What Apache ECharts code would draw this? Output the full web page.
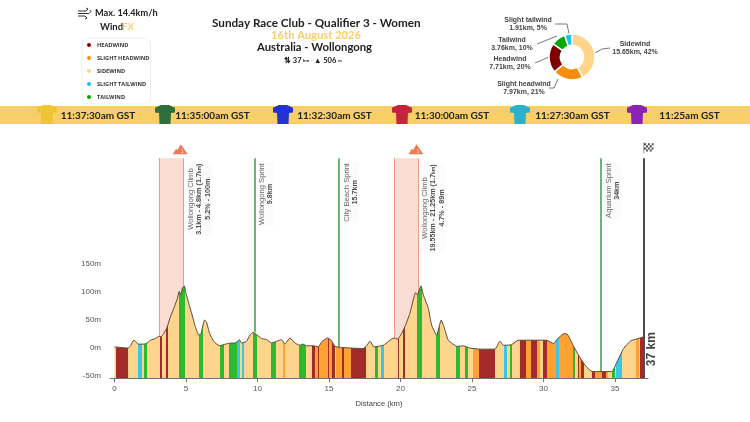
<!DOCTYPE html>
<html><head><meta charset="utf-8">
<style>html,body{margin:0;padding:0;background:#fff}#c{width:750px;height:422px}</style>
<script src="https://cdn.jsdelivr.net/npm/echarts@6/dist/echarts.min.js"></script>
</head><body><div id="c"></div>
<script>
const distances=[0,0.97,1.15,1.35,1.47,1.66,2.05,2.29,2.52,2.87,3.1,3.27,3.45,3.68,3.92,4.2,4.43,4.52,4.63,4.75,4.89,5,5.2,5.43,5.66,5.9,6.06,6.3,6.43,6.66,6.94,7.36,7.76,8.2,8.43,8.61,8.73,8.89,9.24,9.47,9.7,9.94,10.29,10.64,10.99,11.34,11.69,11.92,12.27,12.62,12.97,13.16,13.44,13.9,14.25,14.53,14.91,15.19,15.42,15.89,17.4,17.63,17.87,18.15,18.8,19.27,19.55,19.8,20.08,20.31,20.66,21.06,21.18,21.43,21.6,21.95,22.18,22.53,22.7,22.85,23.04,23.35,23.97,24.4,24.86,25.56,26.61,26.84,26.96,27.19,27.31,27.77,28.24,30.22,30.69,31.04,31.46,31.69,32.09,32.55,33.02,33.42,34.77,35.1,35.6,36.11,36.5,37];
const elevations=[1,-1,4,13,11,6,6,8,13,16,20,19,25,36,55,73,90,100,94,106,110,97,79,58,37,22,25,49,46,25,11,3,6,8,8,11,14,8,11,22,27,23,16,14,8,11,14,6,17,8,4,6,3,3,1,11,17,12,2,0,-2,3,11,1,4,13,17,15,25,37,61,98,94,110,94,70,40,22,37,49,37,13,2,3,-1,-3,-3,7,11,4,4,5,13,13,7,17,25,23,3,-18,-35,-43,-43,-28,-2,12,15,19];

const windEdges=[0,0.1,0.97,1.66,1.9,2.09,2.25,3.18,3.32,3.58,3.74,4.53,4.95,5.91,6.21,7.38,7.66,8.0,8.6,8.78,8.94,9.08,9.7,9.94,10.92,11.29,11.8,11.92,12.9,13.39,13.83,14.0,14.25,14.32,14.9,15.0,15.19,15.42,15.49,15.89,16.03,16.52,17.56,18.19,18.4,18.61,18.85,19.8,19.9,20.15,20.31,21.18,21.5,22.46,22.76,23.9,24.16,24.5,24.74,25.04,25.46,26.61,27.26,27.42,27.66,27.82,28.33,28.78,29.1,29.57,29.75,29.94,30.27,30.87,31.1,32.04,32.2,32.4,32.5,32.6,32.8,32.85,33.42,33.6,34.1,34.4,34.52,34.8,34.98,35.05,35.5,36.46,36.65,36.75];
const windKinds=["S","H","S","ST","S","T","S","H","S","H","S","T","S","T","S","T","S","T","ST","S","ST","S","T","S","T","S","SH","S","T","S","H","SH","H","SH","H","SH","H","S","SH","H","SH","H","S","T","S","ST","S","H","S","H","S","T","S","T","S","T","S","T","S","SH","H","S","ST","S","T","S","H","SH","H","SH","S","H","SH","ST","SH","T","S","H","SH","H","SH","S","H","SH","H","SH","S","T","S","ST","S","SH","S","H"];
const routeEnd=37;

const pieNames=["Sidewind","Slight headwind","Headwind","Tailwind","Slight tailwind"];
const pieKm=[15.65,7.97,7.71,3.76,1.91];
const piePct=[42,21,20,10,5];
const legendOrder=["Headwind","Slight headwind","Sidewind","Slight tailwind","Tailwind"];

const yTicks=[-50,0,50,100,150];
const xTicks=[0,5,10,15,20,25,30,35];

const sprintNames=["Wollongong Sprint","City Beach Sprint","Aquarium Sprint"];
const sprintKm=[9.8,15.7,34];
const sprintElev=[27,0,-43];
const climbStart=[3.1,19.55];
const climbEnd=[4.8,21.25];
const climbRange=["3.1km - 4.8km ","19.55km - 21.25km "];
const climbLen=["1.7","1.7"];
const climbStats=["5.2% - 100m","4.7% - 89m"];

const jerseyTimes=["11:37:30am GST","11:35:00am GST","11:32:30am GST","11:30:00am GST","11:27:30am GST","11:25am GST"];
const jerseyColors=["#f0c535","#2f6f3c","#2433cf","#c4253a","#2eb2cc","#8a24b4"];

const kindColor={H:"#a52a2a",SH:"#ffa233",S:"#ffd58e",ST:"#3cc6e6",T:"#2fb92f"};
const pieColors={"Sidewind":"#ffd58a","Slight headwind":"#f98e0d","Headwind":"#800000","Tailwind":"#00a800","Slight tailwind":"#1fbfef"};
const FONT="'Liberation Sans',Arial,sans-serif", HEAD="Lato,'Open Sans',sans-serif";

const pieces=windEdges.map((e,i)=>({gte:e,lt:i+1<windEdges.length?windEdges[i+1]:routeEnd+1,color:kindColor[windKinds[i]]}));
const profile=distances.map((d,i)=>[d,elevations[i]]);
const LINE_TOP=338;

const pieLabelPos=[[635,48],[524,88],[510,63],[512,44],[528,24.5]];
const pieLinePts=[[[595,53],[602,49],[610,48]],[[558,79],[554,88],[549,88]],[[549,57],[535,63]],[[557,36],[537,44]],[[569,34],[567,24],[555,24]]];

const annotations=[
 {value:[5.94,265],label:{formatter:`{n|Wollongong Climb}\n{b|${climbRange[0]}(${climbLen[0]}}{s|km}{b|)}\n{b|${climbStats[0]}}`}},
 {value:[10.6,274],label:{formatter:`{n|${sprintNames[0]}}\n{b|${sprintKm[0]}km}`}},
 {value:[16.54,277],label:{formatter:`{n|${sprintNames[1]}}\n{b|${sprintKm[1]}km}`}},
 {value:[22.3,249],label:{formatter:`{n|Wollongong Climb}\n{b|${climbRange[1]}(${climbLen[1]}}{s|km}{b|)}\n{b|${climbStats[1]}}`}},
 {value:[34.83,280],label:{formatter:`{n|${sprintNames[2]}}\n{b|${sprintKm[2]}km}`}}
];

const jerseyShape=[[6,0],[14,0],[20,3],[20,8],[16,8.5],[15.5,20],[4.5,20],[4,8.5],[0,8],[0,3]];
const jerseyX=[37,155,273,392,510,627];
const timeX=[98,212.5,334.5,452,572.5,689.5];
const graphics=[
 {type:'rect',silent:true,z:0,shape:{x:0,y:106,width:750,height:18},style:{fill:'#f8cf66'}},
 {type:'polyline',silent:true,shape:{points:[[78,11],[86,11],[88,9],[86,8]]},style:{stroke:'#333',fill:null,lineWidth:1}},
 {type:'polyline',silent:true,shape:{points:[[78,13.5],[89,13.5],[91,11.5],[90,10]]},style:{stroke:'#333',fill:null,lineWidth:1}},
 {type:'polyline',silent:true,shape:{points:[[78,16],[85,16],[87,18],[85,19]]},style:{stroke:'#333',fill:null,lineWidth:1}},
 {type:'text',left:95,top:9,style:{text:'Max. 14.4km/h',font:`bold 9.2px ${HEAD}`,fill:'#222'}},
 {type:'text',left:100,top:22,style:{text:'Wind',font:`bold 9.5px ${HEAD}`,fill:'#222'}},
 {type:'text',left:122,top:22,style:{text:'FX',font:`bold 9.5px ${HEAD}`,fill:'#f8cf66'}},
 {type:'text',left:212,top:17,style:{text:'Sunday Race Club - Qualifier 3 - Women',font:`bold 11.7px ${HEAD}`,fill:'#222'}},
 {type:'text',left:271,top:30,style:{text:'16th August 2026',font:`bold 11.2px ${HEAD}`,fill:'#f8cf66'}},
 {type:'text',left:257,top:42,style:{text:'Australia - Wollongong',font:`bold 11.3px ${HEAD}`,fill:'#222'}},
 {type:'text',left:284,top:56.5,style:{text:'⇅ 37',font:`bold 7.5px ${HEAD}`,fill:'#222'}},
 {type:'text',left:303,top:58.5,style:{text:'km',font:`bold 4.5px ${HEAD}`,fill:'#222'}},
 {type:'text',left:314,top:56.5,style:{text:'▲ 506',font:`bold 7.5px ${HEAD}`,fill:'#222'}},
 {type:'text',left:338,top:58.5,style:{text:'m',font:`bold 4.5px ${HEAD}`,fill:'#222'}}
];
jerseyColors.forEach((c,i)=>{
 graphics.push({type:'polygon',silent:true,shape:{points:jerseyShape.map(p=>[jerseyX[i]+p[0],105+p[1]*0.95])},style:{fill:c}});
 graphics.push({type:'text',silent:true,x:timeX[i],y:116,style:{text:jerseyTimes[i],font:`bold 10px ${HEAD}`,fill:'#222',textAlign:'center',textVerticalAlign:'middle'}});
});

const mountain='path://M0,20 L6,9 L8,12 L14,0 L26,20 Z';
const flag='path://M0,0 H2 V32 H0 Z M2,2 H8 V8 H2 Z M14,2 H20 V8 H14 Z M26,2 H32 V8 H26 Z M8,8 H14 V14 H8 Z M20,8 H26 V14 H20 Z M2,14 H8 V20 H2 Z M14,14 H20 V20 H14 Z M26,14 H32 V20 H26 Z M8,20 H14 V26 H8 Z M20,20 H26 V26 H20 Z';

const chart=echarts.init(document.getElementById('c'),null,{renderer:'canvas'});
chart.setOption({
 animation:false,
 backgroundColor:'#fff',
 graphic:graphics,
 legend:{show:true,orient:'vertical',left:82,top:38,data:legendOrder,selectedMode:false,icon:'circle',itemWidth:6,itemHeight:6,itemGap:5,padding:[3,1,3,3],backgroundColor:'#fff',borderColor:'#eeeeee',borderWidth:1,borderRadius:6,
  formatter:n=>n.toUpperCase(),textStyle:{fontSize:5.6,fontWeight:'bold',color:'#333',fontFamily:"'Open Sans',sans-serif"}},
 grid:{left:110,right:102,top:140,bottom:44,containLabel:false},
 xAxis:{type:'value',min:-0.31,max:37.31,name:'Distance (km)',nameLocation:'middle',nameGap:22,nameTextStyle:{fontSize:7.6,color:'#444',fontFamily:FONT},
  axisLine:{show:true,onZero:false,lineStyle:{color:'#6e7079',width:1}},axisTick:{show:true,length:4,customValues:xTicks,lineStyle:{color:'#6e7079'}},
  axisLabel:{customValues:xTicks,fontSize:8,color:'#555',fontFamily:FONT,margin:7},splitLine:{show:false}},
 yAxis:{type:'value',min:-54.5,max:370.5,axisLine:{show:false},axisTick:{show:false},splitLine:{show:false},
  axisLabel:{customValues:yTicks,formatter:'{value}m',fontSize:8,color:'#555',fontFamily:FONT,margin:9}},
 visualMap:{show:false,type:'piecewise',seriesIndex:0,dimension:0,pieces:pieces},
 series:[
  {name:'windArea',type:'line',z:3,data:profile,symbol:'none',showSymbol:false,smooth:0.15,lineStyle:{width:0},areaStyle:{opacity:1,origin:'start'},silent:true,
   markArea:{silent:true,z:1,itemStyle:{color:'#fbdcd2'},data:climbStart.map((s,i)=>[{xAxis:s,yAxis:-54},{xAxis:climbEnd[i],yAxis:LINE_TOP}])}},
  {name:'profile',type:'line',z:6,data:profile,symbol:'none',showSymbol:false,smooth:0.15,lineStyle:{color:'#574a38',width:1},silent:true},
  {name:'markers',type:'line',z:2,data:[],silent:true,
   markLine:{silent:true,symbol:'none',label:{show:false},z:2,animation:false,data:[
     ...climbStart.concat(climbEnd).map(k=>[{coord:[k,-54],lineStyle:{color:'#ec9d85',width:1,type:'solid'}},{coord:[k,LINE_TOP]}])
   ]}},
  {name:'sprints',type:'line',z:5,data:[],silent:true,
   markLine:{silent:true,symbol:'none',label:{show:false},z:5,animation:false,data:[
     ...sprintKm.map((k,i)=>[{coord:[k,sprintElev[i]],lineStyle:{color:'#3a9e44',width:1.5,type:'solid'}},{coord:[k,LINE_TOP]}]),
     [{coord:[routeEnd,-54.5],lineStyle:{color:'#4d4d4d',width:2,type:'solid'}},{coord:[routeEnd,LINE_TOP]}]
   ]}},
  {name:'annotations',type:'scatter',z:7,clip:false,symbolSize:0,silent:true,data:annotations,
   label:{show:true,position:'inside',rotate:90,align:'center',verticalAlign:'middle',backgroundColor:'rgba(247,247,247,0.6)',padding:[0,1],lineHeight:8.2,fontFamily:FONT,
    rich:{n:{fontSize:7.6,color:'#444',fontFamily:FONT,lineHeight:8.2},b:{fontSize:7.2,color:'#222',fontWeight:'bold',fontFamily:FONT,lineHeight:8.2},s:{fontSize:5,color:'#222',fontWeight:'bold',fontFamily:FONT,lineHeight:8.2}}}},
  {name:'total',type:'scatter',z:7,clip:false,symbolSize:0,silent:true,data:[[37.6,-3]],
   label:{show:true,position:'inside',rotate:90,align:'center',verticalAlign:'middle',formatter:routeEnd+' km',fontSize:12,fontWeight:'bold',color:'#111',fontFamily:FONT}},
  {name:'climbIcons',type:'scatter',z:7,clip:false,silent:true,symbol:mountain,symbolSize:[15,10],data:[[4.6,354],[21.08,354]],itemStyle:{color:'#e8582c'},
   label:{show:true,position:'inside',formatter:'1',fontSize:5,color:'#fff',offset:[2,2],fontFamily:FONT}},
  {name:'finish',type:'scatter',z:7,clip:false,silent:true,symbol:flag,symbolSize:[10,11],data:[[37.35,356]],itemStyle:{color:'#222'}},
  {name:'wind',type:'pie',z:4,center:[572,57],radius:[11.5,23],startAngle:90,avoidLabelOverlap:false,silent:true,
   itemStyle:{borderColor:'#fff',borderWidth:1.5,borderRadius:1},
   data:pieNames.map((n,i)=>({name:n,value:pieKm[i],itemStyle:{color:pieColors[n]}})),
   label:{show:true,position:'outside',fontSize:7,lineHeight:8,fontWeight:'bold',color:'#444',fontFamily:FONT,align:'center',
    formatter:p=>`${p.name}\n${pieKm[p.dataIndex]}km, ${piePct[p.dataIndex]}%`},
   labelLine:{show:true,length:6,length2:6,lineStyle:{color:'#555',width:0.8}},
   labelLayout:p=>({x:pieLabelPos[p.dataIndex][0],y:pieLabelPos[p.dataIndex][1],align:'center',verticalAlign:'middle',labelLinePoints:pieLinePts[p.dataIndex]})}
 ]
});
</script></body></html>
